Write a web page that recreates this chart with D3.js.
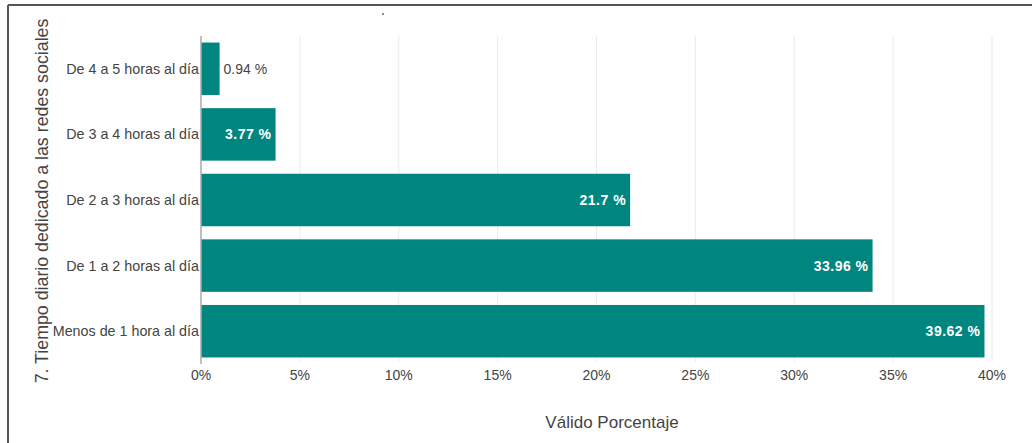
<!DOCTYPE html>
<html>
<head>
<meta charset="utf-8">
<script src="https://cdn.jsdelivr.net/npm/d3@7"></script>
<style>
  body { margin: 0; background: #fff; }
  svg { display: block; font-family: "Liberation Sans", Arial, sans-serif; }
</style>
</head>
<body>
<svg width="1032" height="443"></svg>
<script>
// Data
const categories = [
    "De 4 a 5 horas al día",
    "De 3 a 4 horas al día",
    "De 2 a 3 horas al día",
    "De 1 a 2 horas al día",
    "Menos de 1 hora al día"
];
const values = [0.94, 3.77, 21.7, 33.96, 39.62];
const tickValues = [0, 5, 10, 15, 20, 25, 30, 35, 40];

const svg = d3.select("svg");
const barColor = "#00857f";

// frame lines (top and left)
svg.append("line").attr("x1", 8).attr("x2", 1032).attr("y1", 5).attr("y2", 5)
    .attr("stroke", "#555").attr("stroke-width", 2);
svg.append("line").attr("x1", 8).attr("x2", 8).attr("y1", 5).attr("y2", 443)
    .attr("stroke", "#555").attr("stroke-width", 2);
svg.append("circle").attr("cx", 383).attr("cy", 14).attr("r", 1).attr("fill", "#666");

const x = d3.scaleLinear().domain([0, 40]).range([201, 992]);
const y = d3.scaleBand().domain(categories).range([36, 364])
    .paddingInner(0.2).paddingOuter(0.1);

// gridlines
svg.append("g").selectAll("line")
    .data(tickValues.slice(1))
    .join("line")
    .attr("x1", d => x(d)).attr("x2", d => x(d))
    .attr("y1", 36).attr("y2", 362)
    .attr("stroke", "#ebebeb");

// bars
svg.append("g").selectAll("rect")
    .data(values)
    .join("rect")
    .attr("x", x(0))
    .attr("y", (d, i) => y(categories[i]))
    .attr("width", d => x(d) - x(0))
    .attr("height", y.bandwidth())
    .attr("fill", barColor);

// baseline
svg.append("line").attr("x1", x(0)).attr("x2", x(0)).attr("y1", 36).attr("y2", 364)
    .attr("stroke", "#aaa").attr("stroke-width", 1.5);

// value labels
svg.append("g").selectAll("text")
    .data(values)
    .join("text")
    .attr("y", (d, i) => y(categories[i]) + y.bandwidth() / 2)
    .attr("dy", "0.35em")
    .attr("font-size", 14)
    .each(function(d) {
        const t = d3.select(this);
        const label = d + " %";
        if (x(d) - x(0) < 40) {
            t.attr("x", x(d) + 4).attr("text-anchor", "start").attr("fill", "#444").text(label);
        } else {
            t.attr("x", x(d) - 4).attr("text-anchor", "end").attr("fill", "#fff")
                .attr("font-weight", "bold").attr("letter-spacing", 0.5).text(label);
        }
    });

// category labels
svg.append("g").selectAll("text")
    .data(categories)
    .join("text")
    .attr("x", 199)
    .attr("y", d => y(d) + y.bandwidth() / 2)
    .attr("dy", "0.35em")
    .attr("text-anchor", "end")
    .attr("font-size", 14.3)
    .attr("fill", "#444")
    .text(d => d);

// x tick labels
svg.append("g").selectAll("text")
    .data(tickValues)
    .join("text")
    .attr("x", d => x(d))
    .attr("y", 380)
    .attr("text-anchor", "middle")
    .attr("font-size", 14)
    .attr("fill", "#444")
    .text(d => d + "%");

// axis titles
svg.append("text")
    .attr("x", 612).attr("y", 428)
    .attr("text-anchor", "middle")
    .attr("font-size", 17)
    .attr("fill", "#444")
    .text("Válido Porcentaje");

svg.append("text")
    .attr("transform", "translate(48,201) rotate(-90)")
    .attr("text-anchor", "middle")
    .attr("font-size", 17.8)
    .attr("fill", "#444")
    .text("7. Tiempo diario dedicado a las redes sociales");
</script>
</body>
</html>
